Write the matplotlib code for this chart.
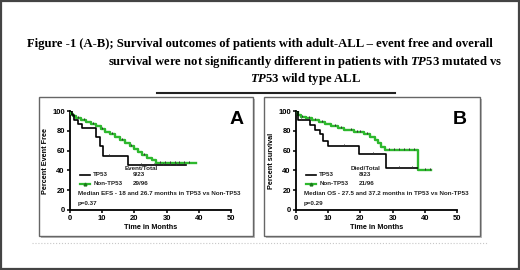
import numpy as np
import matplotlib
matplotlib.use("Agg")
import matplotlib.pyplot as plt
from matplotlib.patches import Rectangle
from matplotlib.lines import Line2D

# ---- data (months, percent) ----
efs_tp53_t = [0, 0.5, 1.2, 2.5, 3.8, 8.0, 9.3, 10.2, 18.0]
efs_tp53_s = [100, 95.7, 91.3, 87.0, 82.6, 74.0, 64.5, 55.0, 45.5]
efs_tp53_end = 36.0
efs_tp53_cens = [12, 22, 26, 29, 31, 33]

efs_non_t = [0, 0.3, 1, 2, 3.5, 5, 6.5, 8, 9.5, 11, 12.5, 14, 15.5, 17, 18.5,
             20, 21, 22.5, 24, 25.5, 26.8]
efs_non_s = [100, 97, 95, 93, 91, 89, 87, 85, 82, 79, 77, 74, 71, 68, 65,
             62, 59, 56, 53, 51, 47.5]
efs_non_end = 39.2
efs_non_cens = [2.5, 4.5, 7, 10, 13, 16, 19, 23, 28, 29.5, 31, 32.5, 34, 35.5, 37]

os_tp53_t = [0, 0.5, 4.5, 6.0, 7.5, 8.5, 10.0, 19.5, 28.0]
os_tp53_s = [100, 91, 86, 81, 77, 70, 64.5, 56.5, 42.5]
os_tp53_end = 37.5
os_tp53_cens = [1.5, 15, 24, 32, 36]

os_non_t = [0, 0.5, 1.5, 3, 5, 7, 9, 11, 13, 15, 18, 21, 23, 24.5, 25.5,
            26.5, 27.5, 38.0]
os_non_s = [100, 96, 94, 93, 91, 89, 87, 85, 83, 81, 79, 77, 74, 71, 68,
            64, 60.5, 40.5]
os_non_end = 42.0
os_non_cens = [2, 4, 6, 8, 12, 14, 17, 19, 20, 22, 29, 30.5, 32, 33.5, 35, 36.5, 40, 41.5]

title1 = "Figure -1 (A-B); Survival outcomes of patients with adult-ALL \u2013 event free and overall"
title2 = r"survival were not significantly different in patients with $\mathit{TP53}$ mutated vs"
title3 = r"$\mathit{TP53}$ wild type ALL"

W, H = 520, 270
GREEN = "#2DB82D"

plt.rcParams["font.family"] = ["Liberation Sans", "DejaVu Sans"]
plt.rcParams["mathtext.fontset"] = "custom"
plt.rcParams["mathtext.it"] = "Liberation Serif:italic:bold"
plt.rcParams["mathtext.rm"] = "Liberation Serif:bold"

fig = plt.figure(figsize=(W / 100, H / 100), dpi=100)


def fx(x):
    return x / W


def fy(y):
    return 1 - y / H


def frect(x0, y0, x1, y1, **kw):
    r = Rectangle((fx(x0), fy(y1)), fx(x1) - fx(x0), fy(y0) - fy(y1),
                  transform=fig.transFigure, **kw)
    fig.patches.append(r)


# outer border
frect(1, 1, 519, 269, fill=False, ec="#444444", lw=1.6, zorder=0.5)
# faint dotted frame
fig.add_artist(Line2D([fx(32), fx(488)], [fy(243), fy(243)], color="#c8c8c8",
                      lw=0.8, ls=":", transform=fig.transFigure))
# panel boxes (with slight shadow)
for x0, x1 in [(39, 253), (264, 480)]:
    frect(x0 + 1.5, 98.5, x1 + 1.5, 237.5, fc="#bbbbbb", ec="none", zorder=0.4)
    frect(x0, 97, x1, 236, fc="white", ec="#666666", lw=1.0, zorder=0.5)

# title
tkw = dict(family="Liberation Serif", weight="bold", fontsize=9.05,
           va="center", ha="left", transform=fig.transFigure)
fig.text(fx(27), fy(44), title1, **tkw)
fig.text(fx(108), fy(62), title2, **tkw)
fig.text(fx(250), fy(79), title3, **tkw)
fig.add_artist(Line2D([fx(157), fx(395)], [fy(93), fy(93)], color="#222222",
                      lw=1.5, transform=fig.transFigure))


def km(ax, t, s, end, cens, color, lw):
    tt = list(t) + [end]
    ss = list(s) + [s[-1]]
    ax.step(tt, ss, where="post", color=color, lw=lw, zorder=3)
    idx = np.searchsorted(t, cens, side="right") - 1
    cy = np.array(s)[idx]
    ax.plot(cens, cy + 0.8, ls="none", marker="|", ms=1.6, mew=0.7,
            color="#333333", zorder=4)


def panel(x0, ylabel, letter, header, n1, n2, median, pval, curves):
    ax = fig.add_axes([fx(x0), fy(210), fx(x0 + 161) - fx(x0), fy(111) - fy(210)])
    ax.set_facecolor("none")
    ax.set_zorder(1)
    ax.set_xlim(0, 50)
    ax.set_ylim(0, 100)
    for sp in ["top", "right"]:
        ax.spines[sp].set_visible(False)
    for sp in ["left", "bottom"]:
        ax.spines[sp].set_linewidth(1.3)
    ax.set_xticks([0, 10, 20, 30, 40, 50])
    ax.set_yticks([0, 20, 40, 60, 80, 100])
    ax.tick_params(direction="out", length=2.5, width=1.1, pad=1.2,
                   labelsize=5.5)
    for lab in ax.get_xticklabels() + ax.get_yticklabels():
        lab.set_fontweight("bold")
    ax.set_xlabel("Time in Months", fontsize=5.2, fontweight="bold", labelpad=1)
    ax.set_ylabel(ylabel, fontsize=5.2, fontweight="bold", labelpad=2)

    for t, s, end, cens, color, lw in curves:
        km(ax, t, s, end, cens, color, lw)

    tk = dict(fontsize=4.5, fontweight="bold", va="center", ha="left", color="#222222")
    ax.text(17, 41.5, header, **tk)
    ax.plot([3.1, 6.2], [35.4, 35.4], color="black", lw=1.2, clip_on=False)
    ax.plot([3.1, 6.2], [26.3, 26.3], color=GREEN, lw=1.6, clip_on=False)
    ax.plot([4.65], [26.3], marker="^", ms=2, color="#1a7a1a", clip_on=False)
    ax.text(7.2, 35.4, "TP53", **tk)
    ax.text(7.2, 26.3, "Non-TP53", **tk)
    ax.text(19.4, 35.4, n1, **tk)
    ax.text(19.4, 26.3, n2, **tk)
    ax.text(2.4, 16.8, median, **tk)
    ax.text(2.4, 6.6, pval, **tk)
    fig.text(fx(letter[1]), fy(120), letter[0], fontsize=14, fontweight="bold",
             ha="center", va="center")
    return ax


panel(70, "Percent Event Free", ("A", 237), "Event/Total", "9/23", "29/96",
      "Median EFS - 18 and 26.7 months in TP53 vs Non-TP53", "p=0.37",
      [(efs_non_t, efs_non_s, efs_non_end, efs_non_cens, GREEN, 1.7),
       (efs_tp53_t, efs_tp53_s, efs_tp53_end, efs_tp53_cens, "black", 1.2)])
panel(296, "Percent survival", ("B", 460), "Died/Total", "8/23", "21/96",
      "Median OS - 27.5 and 37.2 months in TP53 vs Non-TP53", "p=0.29",
      [(os_non_t, os_non_s, os_non_end, os_non_cens, GREEN, 1.7),
       (os_tp53_t, os_tp53_s, os_tp53_end, os_tp53_cens, "black", 1.2)])

fig.savefig("out.png", dpi=100)
